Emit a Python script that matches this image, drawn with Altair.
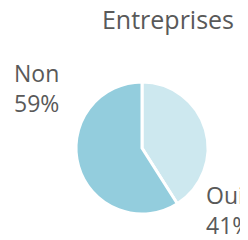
import altair as alt
import pandas as pd

categories = ["Oui", "Non"]
values = [41, 59]
colors = ["#CDE8EF", "#93CDDD"]
title_text = "Entreprises"

df = pd.DataFrame({
    "cat": categories,
    "val": values,
    "order": list(range(len(categories))),
})
df["label"] = df["cat"] + "\n" + df["val"].astype(str) + "%"

base = alt.Chart(df)

pie = base.mark_arc(outerRadius=66, stroke="white", strokeWidth=3).encode(
    theta=alt.Theta("val:Q", stack=True),
    order=alt.Order("order:Q"),
    color=alt.Color("cat:N", scale=alt.Scale(domain=categories, range=colors), legend=None),
    x=alt.value(134),
    y=alt.value(140),
)

label_style = dict(font="Open Sans", fontSize=23, color="#595959", align="left",
                   baseline="alphabetic", lineBreak="\n", lineHeight=30)

lab_non = base.transform_filter(alt.datum.cat == "Non").mark_text(**label_style).encode(
    text="label:N", x=alt.value(6), y=alt.value(74)
)
lab_oui = base.transform_filter(alt.datum.cat == "Oui").mark_text(**label_style).encode(
    text="label:N", x=alt.value(198), y=alt.value(196)
)

title = alt.Chart(pd.DataFrame({"t": [title_text]})).mark_text(
    font="Open Sans", fontSize=25, color="#595959", align="center", baseline="alphabetic"
).encode(text="t:N", x=alt.value(160), y=alt.value(21))

chart = alt.layer(pie, lab_non, lab_oui, title).properties(
    width=232, height=232, padding=0, autosize=alt.AutoSizeParams(type="none")
).configure_view(stroke=None)

chart.save("out.html", embed_options={"renderer": "svg", "actions": False})
